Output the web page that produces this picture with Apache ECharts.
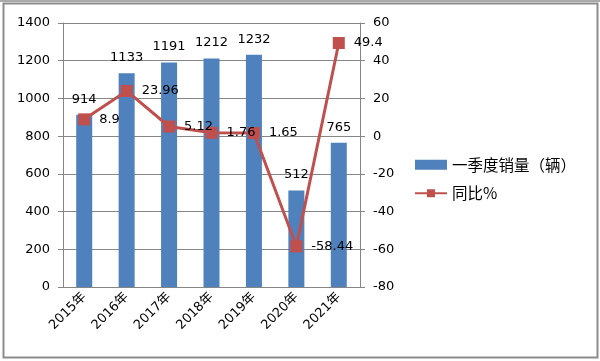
<!DOCTYPE html>
<html><head><meta charset="utf-8">
<script src="https://cdn.jsdelivr.net/npm/echarts@6/dist/echarts.min.js"></script>
<style>html,body{margin:0;padding:0;background:#fff}#c{width:600px;height:361px}</style>
</head><body><div id="c"></div>
<script>
const categories = ['2015年','2016年','2017年','2018年','2019年','2020年','2021年'];
const sales = [914, 1133, 1191, 1212, 1232, 512, 765];
const yoy = [8.9, 23.96, 5.12, 1.76, 1.65, -58.44, 49.4];
const leftTicks = {min: 0, max: 1400, interval: 200};
const rightTicks = {min: -80, max: 60, interval: 20};

const numFont = '"DejaVu Sans", "Noto Sans CJK SC", sans-serif';
const chart = echarts.init(document.getElementById('c'));
chart.setOption({
  animation: false,
  textStyle: {fontFamily: numFont},
  graphic: [
    {type: 'line', shape: {x1: 0, y1: 1, x2: 600, y2: 1}, style: {stroke: '#555', lineWidth: 1}},
    {type: 'rect', shape: {x: 3.5, y: 3.5, width: 594, height: 354}, style: {fill: 'none', stroke: '#8c8c8c', lineWidth: 2}}
  ],
  grid: {left: 63, right: 240, top: 23, bottom: 74},
  legend: {
    orient: 'vertical', left: 409, top: 152, itemGap: 13,
    itemWidth: 32, itemHeight: 10,
    textStyle: {fontSize: 15.5, color: '#000', fontFamily: '"Noto Sans CJK SC", sans-serif'},
    data: [{name: '一季度销量（辆）', icon: 'rect'}, {name: '同比%'}]
  },
  xAxis: {
    type: 'category', data: categories,
    axisLine: {lineStyle: {color: '#868686'}},
    axisTick: {alignWithLabel: false, length: 5, lineStyle: {color: '#868686'}},
    axisLabel: {rotate: 45, fontSize: 13, color: '#000', margin: 8, fontFamily: numFont}
  },
  yAxis: [
    {type: 'value', min: leftTicks.min, max: leftTicks.max, interval: leftTicks.interval,
     axisLine: {show: true, lineStyle: {color: '#868686'}},
     axisTick: {show: true, length: 5, lineStyle: {color: '#868686'}},
     axisLabel: {fontSize: 13, color: '#000', margin: 13, formatter: v => String(v)},
     splitLine: {lineStyle: {color: '#868686'}}},
    {type: 'value', min: rightTicks.min, max: rightTicks.max, interval: rightTicks.interval,
     axisLine: {show: true, lineStyle: {color: '#868686'}},
     axisTick: {show: true, length: 5, lineStyle: {color: '#868686'}},
     axisLabel: {fontSize: 13, color: '#000', margin: 13, formatter: v => String(v)},
     splitLine: {show: false}}
  ],
  series: [
    {name: '一季度销量（辆）', type: 'bar', data: sales, barWidth: 16,
     itemStyle: {color: '#4F81BD'},
     label: {show: true, position: 'top', distance: 9, fontSize: 13, color: '#000'}},
    {name: '同比%', type: 'line', yAxisIndex: 1, data: yoy,
     symbol: 'rect', symbolSize: 12,
     lineStyle: {color: '#C0504D', width: 3},
     itemStyle: {color: '#C0504D'},
     label: {show: true, position: 'right', distance: 9, fontSize: 13, color: '#000'}}
  ]
});
</script></body></html>
